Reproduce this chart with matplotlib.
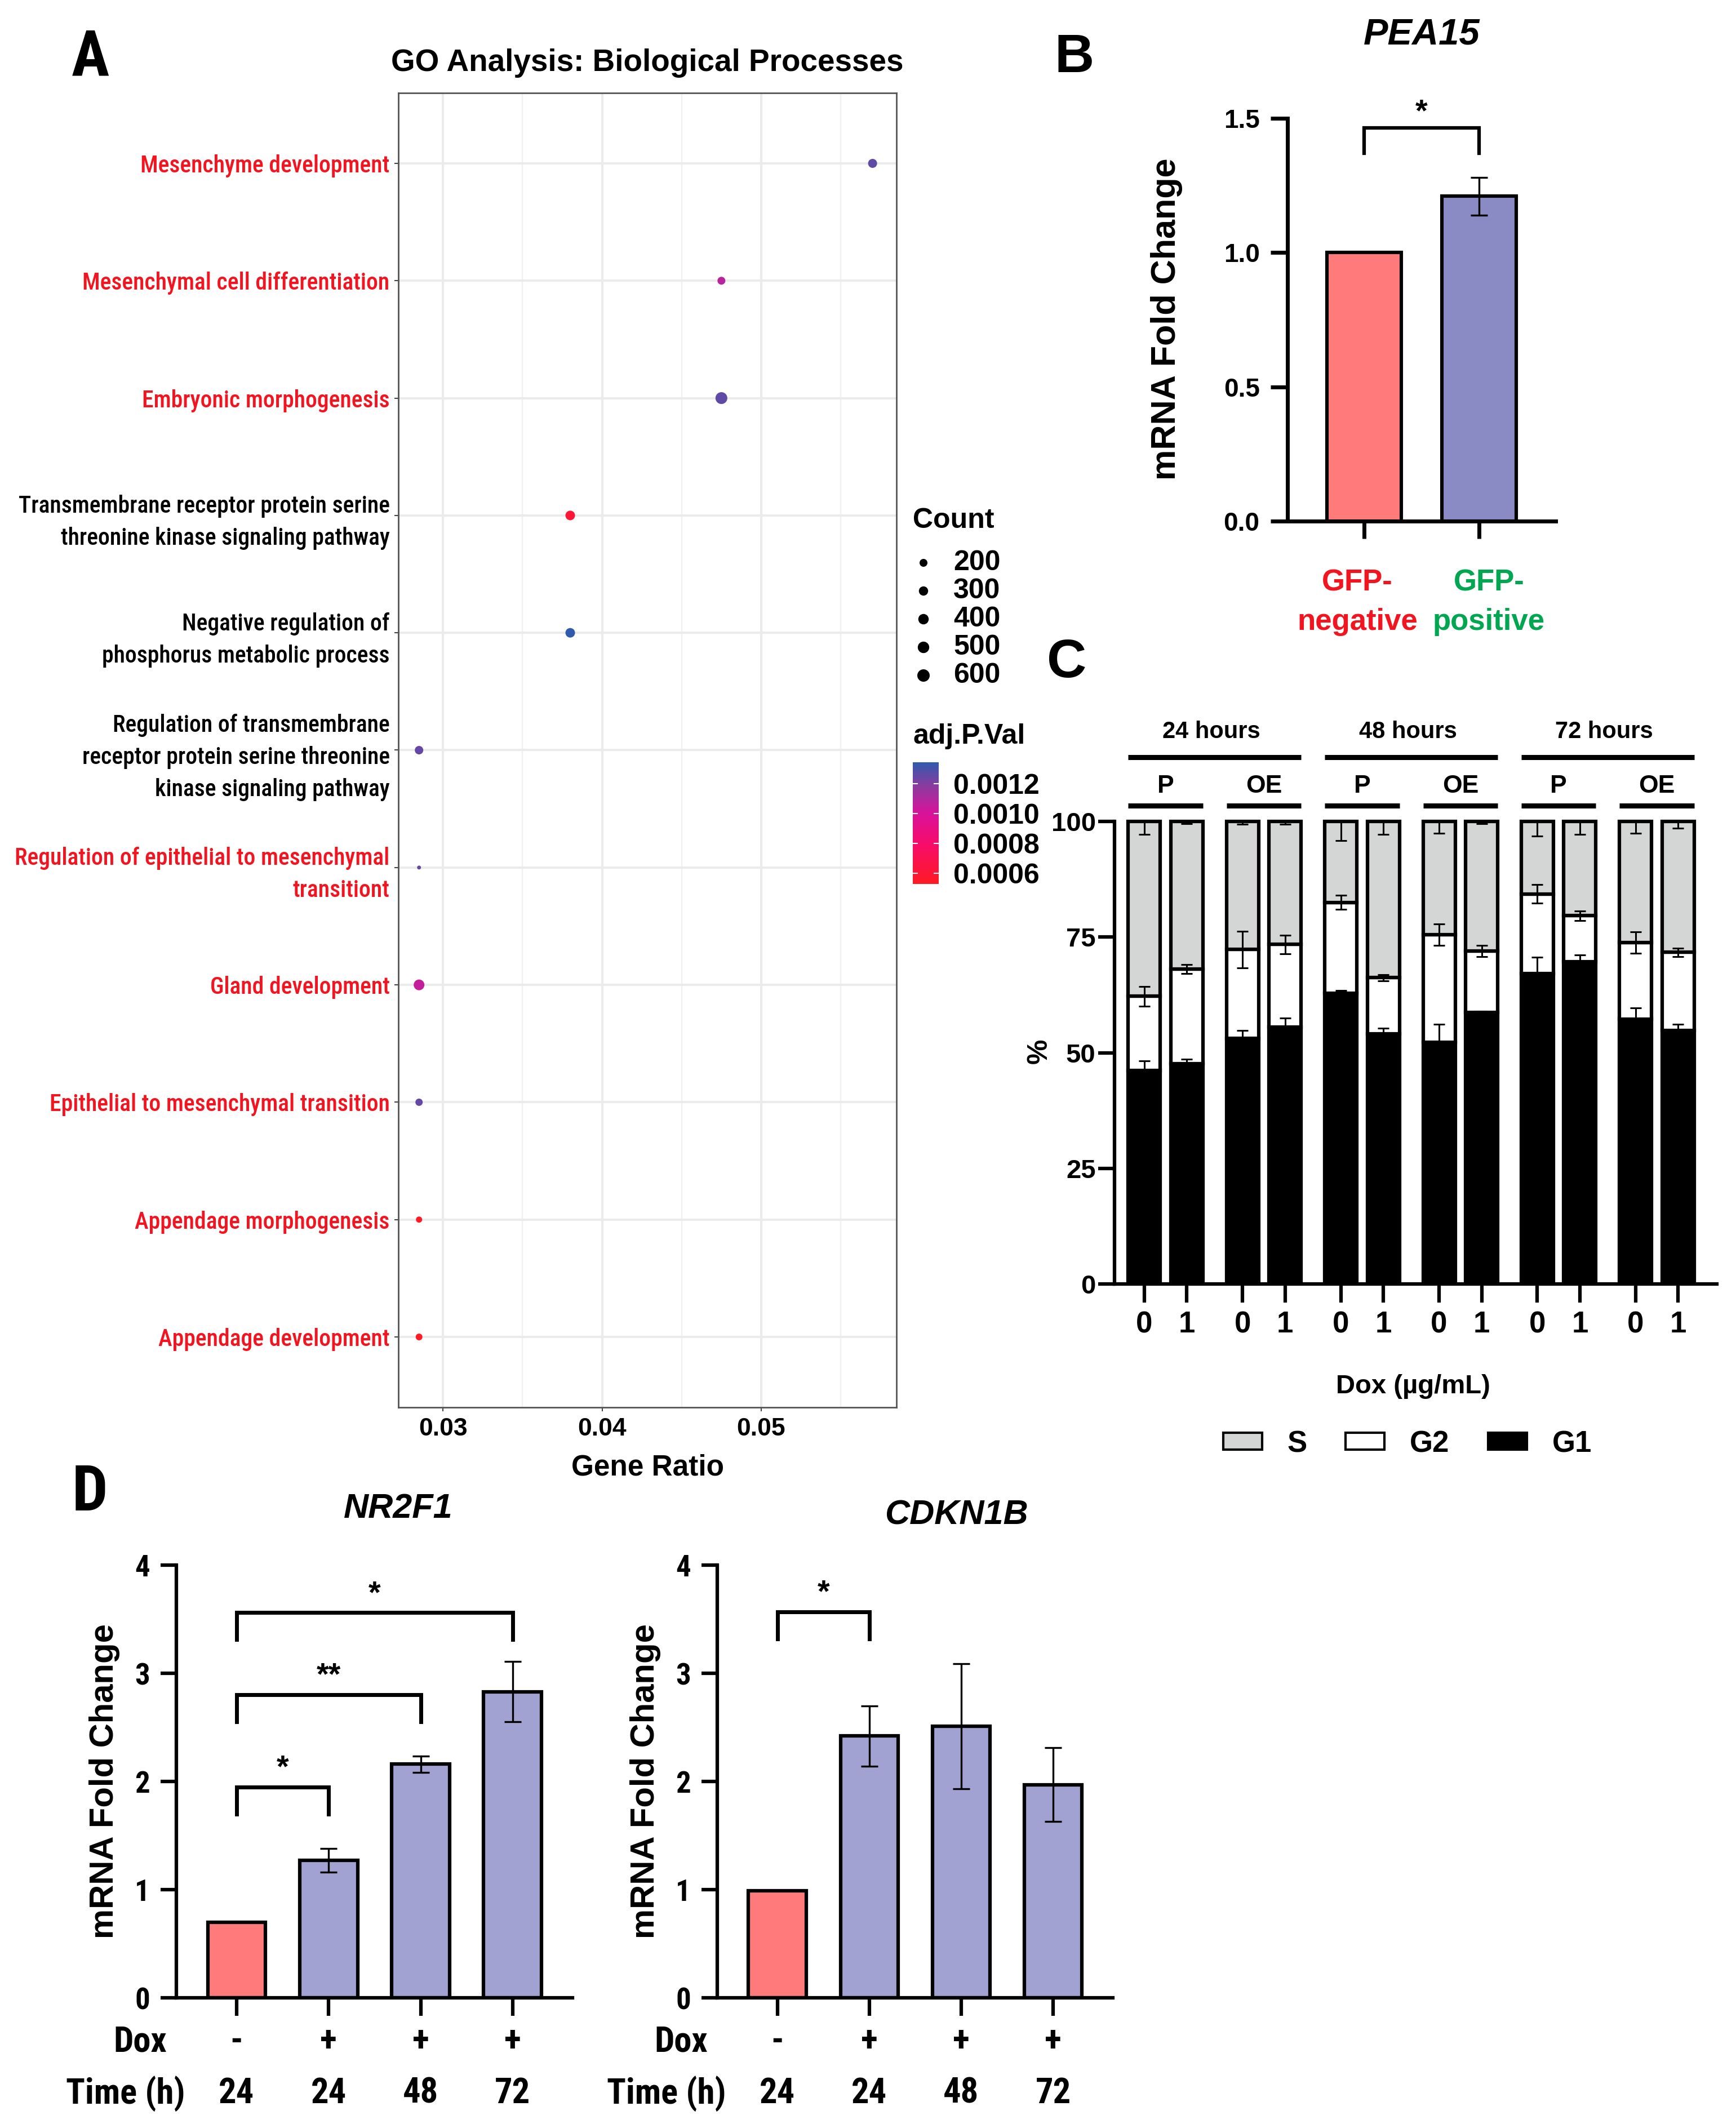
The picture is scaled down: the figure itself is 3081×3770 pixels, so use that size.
import os
import numpy as np
import matplotlib
matplotlib.use("Agg")
import matplotlib.pyplot as plt
import matplotlib.transforms as mtransforms
from matplotlib import font_manager
from matplotlib.font_manager import FontProperties
from matplotlib.colors import LinearSegmentedColormap, Normalize
from matplotlib.cm import ScalarMappable
from matplotlib.patches import Patch

W, H, DPI = 3081, 3770, 100

plt.rcParams["font.family"] = ["Liberation Sans", "DejaVu Sans"]
plt.rcParams["font.weight"] = "bold"
plt.rcParams["axes.titleweight"] = "bold"
plt.rcParams["axes.labelweight"] = "bold"

# ---- panel A: GO biological processes (top to bottom) ----
go_terms = [
    "Mesenchyme development",
    "Mesenchymal cell differentiation",
    "Embryonic morphogenesis",
    "Transmembrane receptor protein serine\nthreonine kinase signaling pathway",
    "Negative regulation of\nphosphorus metabolic process",
    "Regulation of transmembrane\nreceptor protein serine threonine\nkinase signaling pathway",
    "Regulation of epithelial to mesenchymal\ntransitiont",
    "Gland development",
    "Epithelial to mesenchymal transition",
    "Appendage morphogenesis",
    "Appendage development",
]
go_ratio = [0.0570, 0.0475, 0.0475, 0.0380, 0.0380, 0.0285,
            0.0285, 0.0285, 0.0285, 0.0285, 0.0285]
go_count = [280, 200, 540, 325, 325, 240, 25, 425, 165, 105, 133]
go_padj = [0.00126, 0.00108, 0.00126, 0.00060, 0.001343, 0.00125,
           0.00125, 0.00105, 0.00125, 0.000528, 0.000535]
go_highlight = [True, True, True, False, False, False,
                True, True, True, True, True]
count_breaks = [200, 300, 400, 500, 600]
padj_ticks = [0.0006, 0.0008, 0.0010, 0.0012]

# ---- panel B: PEA15 ----
pea15_groups = ["GFP-\nnegative", "GFP-\npositive"]
pea15_mean = [1.0, 1.21]
pea15_sd = [0.0, 0.07]
pea15_sig = [(0, 1, 1.465, "*")]

# ---- panel C: cell cycle ----
cc_time = ["24 hours", "48 hours", "72 hours"]
cc_line = ["P", "OE", "P", "OE", "P", "OE"]
cc_dox = ["0", "1"] * 6
g1 = np.array([46.2, 47.6, 53.1, 55.5, 62.9, 54.1, 52.2, 58.7, 67.1, 69.7, 57.2, 54.8])
g2 = np.array([16.0, 20.5, 19.2, 17.9, 19.6, 12.1, 23.3, 13.3, 17.2, 9.9, 16.6, 16.9])
g1_err = np.array([2.0, 1.0, 1.7, 2.0, 0.5, 1.2, 4.0, 0.3, 3.5, 1.4, 2.5, 1.4])
g2_err = np.array([2.1, 1.0, 4.0, 2.0, 1.5, 0.7, 2.3, 1.2, 2.0, 1.0, 2.3, 0.9])
s_err = np.array([2.8, 0.5, 0.6, 0.6, 4.2, 2.8, 2.5, 0.5, 3.2, 2.8, 2.5, 1.5])
s_phase = 100 - g1 - g2

# ---- panel D ----
d_dox = ["-", "+", "+", "+"]
d_time = ["24", "24", "48", "72"]
nr2f1_mean = [0.70, 1.27, 2.16, 2.83]
nr2f1_sd = [0.0, 0.11, 0.075, 0.28]
nr2f1_sig = [(0, 1, 1.95, "*"), (0, 2, 2.80, "**"), (0, 3, 3.56, "*")]
cdkn1b_mean = [0.99, 2.42, 2.51, 1.97]
cdkn1b_sd = [0.0, 0.28, 0.58, 0.34]
cdkn1b_sig = [(0, 1, 3.57, "*")]

SALMON = "#ff7b7b"
RED_TXT = "#f2141f"
GREEN_TXT = "#00a650"

# narrow (Arial Narrow-like) face, looked up by file name
_font_files = [f.fname for f in font_manager.fontManager.ttflist]


def narrow_file(weight="regular", italic=False):
    prefs = ["liberationsansnarrow", "robotocondensed", "notosans-condensed",
             "opensans_condensed", "opensans-condensed", "dejavusanscondensed"]
    for key in prefs:
        for p in _font_files:
            b = os.path.basename(p).lower().replace(" ", "")
            if not b.startswith(key):
                continue
            if any(w in b for w in ("semi", "extra", "ultra", "light", "thin", "black")):
                continue
            if ("bold" in b) != (weight == "bold"):
                continue
            if ("medium" in b) != (weight == "medium"):
                continue
            if ("italic" in b or "oblique" in b) != italic:
                continue
            return p
    return None


def narrow_fp(size, weight="regular", italic=False):
    p = narrow_file(weight, italic)
    if p is None and weight == "medium":
        p = narrow_file("regular", italic)
    if p is None:
        return FontProperties(family="Liberation Sans",
                              weight="bold" if weight == "bold" else "normal",
                              style="italic" if italic else "normal",
                              size=size * 0.82)
    return FontProperties(fname=p, size=size)


fig = plt.figure(figsize=(W / DPI, H / DPI), dpi=DPI)


def px_axes(l, t, r, b):
    return fig.add_axes([l / W, 1 - b / H, (r - l) / W, (b - t) / H])


def px_text(x, y, s, **kw):
    return fig.text(x / W, 1 - y / H, s, **kw)


def dot_size(c):
    d = 14 + 0.773 * (np.sqrt(np.asarray(c, float)) - np.sqrt(200))
    return (d * 72 / DPI) ** 2


# ================= A =================
axA = px_axes(707, 165, 1591, 2498)
n = len(go_terms)
ypos = np.arange(n)[::-1] + 1
cmap = LinearSegmentedColormap.from_list(
    "padj", [(0, "#ff1a24"), (0.33, "#f60c6a"), (0.58, "#d8129a"),
             (0.8, "#8e3a9f"), (1, "#2f5aae")])
norm = Normalize(min(go_padj), max(go_padj))
axA.scatter(go_ratio, ypos, s=dot_size(go_count), c=go_padj, cmap=cmap,
            norm=norm, linewidths=0, zorder=3)
axA.set_xlim(0.0272, 0.0585)
axA.set_ylim(0.4, n + 0.6)
axA.set_xticks([0.03, 0.04, 0.05])
axA.set_xticklabels(["0.03", "0.04", "0.05"])
axA.set_xticks([0.035, 0.045, 0.055], minor=True)
axA.set_yticks(ypos)
axA.set_yticklabels(go_terms, fontproperties=narrow_fp(30, "medium"), linespacing=1.5)
for lab, hl in zip(axA.get_yticklabels(), go_highlight):
    lab.set_color(RED_TXT if hl else "black")
axA.grid(which="major", color="#ebebeb", lw=2.9)
axA.grid(which="minor", axis="x", color="#f1f1f1", lw=1.7)
axA.set_axisbelow(True)
for sp in axA.spines.values():
    sp.set_color("#555555")
    sp.set_linewidth(2)
axA.tick_params(which="major", length=5, width=1.5, color="#444444")
axA.tick_params(axis="x", which="minor", length=0)
axA.tick_params(axis="x", labelsize=32, pad=8)
axA.tick_params(axis="y", pad=6)
axA.set_xlabel("Gene Ratio", fontsize=37, va="center")
axA.xaxis.set_label_coords(0.5, -0.0459)
axA.set_title("GO Analysis: Biological Processes", fontsize=39.5,
              y=(2498 - 112) / 2333, va="center", pad=0)

# size legend
lax = px_axes(1600, 880, 1900, 1240)
lax.set_xlim(0, 300)
lax.set_ylim(360, 0)
lax.axis("off")
rows = 119 + 50 * np.arange(len(count_breaks))
lax.scatter(np.full(len(count_breaks), 39), rows, s=dot_size(count_breaks),
            color="black", linewidths=0, clip_on=False)
for r, c in zip(rows, count_breaks):
    lax.text(92, r, str(c), ha="left", va="center", fontsize=36)
lax.text(20, 44, "Count", ha="left", va="center", fontsize=36)

# colour bar
cax = px_axes(1620, 1353, 1666, 1569)
cb = fig.colorbar(ScalarMappable(norm=norm, cmap=cmap), cax=cax, ticks=padj_ticks)
cb.outline.set_visible(False)
cax.set_yticklabels([f"{t:.4f}" for t in padj_ticks])
cax.minorticks_off()
cax.tick_params(axis="y", direction="in", length=6.5, width=1.5, color="white",
                left=True, right=True, labelsize=36, pad=19)
cax.set_title("adj.P.Val", loc="left", fontsize=36, pad=24)

# ================= B =================
axB = px_axes(2285, 210, 2761, 925)
xb = np.arange(len(pea15_mean))
axB.bar(xb, pea15_mean, width=0.647, color=[SALMON, "#8a8ac4"],
        edgecolor="black", linewidth=4.4, zorder=2)
for x, m, e in zip(xb, pea15_mean, pea15_sd):
    if e > 0:
        axB.errorbar(x, m, yerr=e, fmt="none", ecolor="black", elinewidth=2.4,
                     capsize=11, capthick=2.4, zorder=3)
axB.set_xlim(-0.667, 1.667)
axB.set_ylim(0, 1.5)
axB.spines[["top", "right"]].set_visible(False)
axB.spines[["left", "bottom"]].set_linewidth(5)
axB.set_yticks([0, 0.5, 1.0, 1.5])
axB.set_yticklabels(["0.0", "0.5", "1.0", "1.5"])
axB.tick_params(axis="y", length=21.6, width=5, labelsize=33, pad=14)
axB.tick_params(axis="x", length=22, width=5)
axB.set_xticks(xb)
axB.set_xticklabels([])
btrans = mtransforms.blended_transform_factory(axB.transData, axB.transAxes)
for x, lab, col, dx in zip(xb, pea15_groups, [RED_TXT, GREEN_TXT], [-0.06, 0.085]):
    axB.text(x + dx, -0.2014, lab, transform=btrans, ha="center", va="center",
             color=col, fontsize=38, linespacing=1.5)
axB.set_ylabel("mRNA Fold Change", fontsize=44, va="center")
axB.yaxis.set_label_coords(-0.45, 0.502)
axB.set_title("PEA15", fontstyle="italic", fontsize=47, y=1.208, va="center", pad=0)
for i, j, y, lab in pea15_sig:
    axB.plot([i, i, j, j], [y - 0.095, y, y, y - 0.095], color="black", lw=4.5,
             clip_on=False, solid_joinstyle="miter")
    axB.text((i + j) / 2, y + 0.055, lab, ha="center", va="center", fontsize=40)

# ================= C =================
axC = px_axes(1978, 1458, 3047, 2279)
nc = len(g1)
xc = (np.arange(nc) // 2) * 2.31 + np.arange(nc) % 2
bw = 0.755
axC.bar(xc, g1, bw, color="black", edgecolor="black", lw=4.5, zorder=2)
axC.bar(xc, g2, bw, bottom=g1, color="white", edgecolor="black", lw=4.5, zorder=2)
axC.bar(xc, s_phase, bw, bottom=g1 + g2, color="#d4d6d5", edgecolor="black",
        lw=4.5, zorder=2, clip_on=False)
ekw = dict(fmt="none", ecolor="black", elinewidth=2.2, capsize=7, capthick=2.2,
           zorder=4, clip_on=False)
axC.errorbar(xc, g1, yerr=g1_err, **ekw)
axC.errorbar(xc, g1 + g2, yerr=g2_err, **ekw)
axC.errorbar(xc, g1 + g2 + s_phase, yerr=[s_err, np.zeros(nc)], **ekw)
axC.set_xlim(-0.70, 13.46)
axC.set_ylim(0, 100)
axC.spines[["top", "right"]].set_visible(False)
axC.spines[["left", "bottom"]].set_linewidth(4.5)
axC.set_yticks([0, 25, 50, 75, 100])
axC.tick_params(axis="y", length=21, width=4.5, labelsize=34, pad=3)
axC.set_xticks(xc)
axC.set_xticklabels(cc_dox)
axC.tick_params(axis="x", length=24, width=4.5, labelsize=38, pad=10)
axC.set_ylabel("%", fontsize=36, va="center")
axC.yaxis.set_label_coords(-0.125, 0.503)
axC.set_xlabel("Dox (µg/mL)", fontsize=34, va="center")
axC.xaxis.set_label_coords(0.496, -0.222)
for k, lab in enumerate(cc_line):
    x0, x1 = xc[2 * k] - bw / 2, xc[2 * k + 1] + bw / 2
    axC.plot([x0, x1], [103.4, 103.4], color="black", lw=6.5, clip_on=False,
             solid_capstyle="butt")
    axC.text((x0 + x1) / 2, 107.6, lab, ha="center", va="center", fontsize=32)
for k, lab in enumerate(cc_time):
    x0, x1 = xc[4 * k] - bw / 2, xc[4 * k + 3] + bw / 2
    axC.plot([x0, x1], [113.9, 113.9], color="black", lw=6.5, clip_on=False,
             solid_capstyle="butt")
    axC.text((x0 + x1) / 2 - 0.08, 119.4, lab, ha="center", va="center", fontsize=30)
handles = [Patch(facecolor="#d4d6d5", edgecolor="black", lw=3, label="S"),
           Patch(facecolor="white", edgecolor="black", lw=3, label="G2"),
           Patch(facecolor="black", edgecolor="black", lw=3, label="G1")]
fig.legend(handles=handles, loc="center", bbox_to_anchor=(2498 / W, 1 - 2563 / H),
           ncol=3, frameon=False, fontsize=38, handlelength=1.3, handleheight=0.5,
           handletextpad=0.85, columnspacing=1.3)

# ================= D =================
fp_tick = narrow_fp(38, "bold")
fp_row = narrow_fp(45, "bold")


def fold_panel(rect, title, mean, sd, sig, title_x, title_y):
    ax = px_axes(*rect)
    xd = np.arange(len(mean))
    colors = [SALMON] + ["#a2a2d2"] * (len(mean) - 1)
    ax.bar(xd, mean, width=0.63, color=colors, edgecolor="black", lw=4.5, zorder=2)
    for x, m, e in zip(xd, mean, sd):
        if e > 0:
            ax.errorbar(x, m, yerr=e, fmt="none", ecolor="black", elinewidth=2.4,
                        capsize=11, capthick=2.4, zorder=3)
    ax.set_xlim(-0.655, 3.65)
    ax.set_ylim(0, 4)
    ax.spines[["top", "right"]].set_visible(False)
    ax.spines[["left", "bottom"]].set_linewidth(4.5)
    ax.set_yticks([0, 1, 2, 3, 4])
    ax.set_yticklabels(["0", "1", "2", "3", "4"], fontproperties=fp_tick)
    ax.tick_params(axis="y", length=20, width=4.5, pad=14)
    ax.set_xticks(xd)
    ax.set_xticklabels([])
    ax.tick_params(axis="x", length=23, width=4.5)
    for i, j, y, lab in sig:
        ax.plot([i, i, j, j], [y - 0.25, y, y, y - 0.25], color="black", lw=5,
                clip_on=False, solid_joinstyle="miter")
        ax.text((i + j) / 2, y + 0.17, lab, ha="center", va="center", fontsize=40)
    trans = mtransforms.blended_transform_factory(ax.transData, ax.transAxes)
    for x, dx, t in zip(xd, d_dox, d_time):
        ax.text(x, -0.1016, dx, transform=trans, ha="center", va="center",
                fontproperties=fp_row)
        ax.text(x, -0.221, t, transform=trans, ha="center", va="center",
                fontproperties=fp_row)
    ax.text(-0.092, -0.1016, "Dox", transform=ax.transAxes, ha="center",
            va="center", fontproperties=fp_row)
    ax.text(-0.129, -0.221, "Time (h)", transform=ax.transAxes, ha="center",
            va="center", fontproperties=fp_row)
    ax.set_ylabel("mRNA Fold Change", fontsize=43, va="center")
    ax.yaxis.set_label_coords(-0.182, 0.5)
    ax.set_title(title, fontstyle="italic", fontsize=44,
                 x=title_x, y=title_y, va="center", pad=0)
    return ax


fold_panel((313, 2778, 1016, 3546), "NR2F1", nr2f1_mean, nr2f1_sd, nr2f1_sig,
           0.560, 1.130)
fold_panel((1273, 2778, 1975, 3546), "CDKN1B", cdkn1b_mean, cdkn1b_sd, cdkn1b_sig,
           0.604, 1.115)

# panel letters
px_text(160, 104, "A", fontproperties=narrow_fp(81, "bold"), ha="center", va="center")
px_text(1907, 103, "B", fontsize=70, ha="center", va="center")
px_text(1893, 1177, "C", fontsize=70, ha="center", va="center")
px_text(159, 2650, "D", fontproperties=narrow_fp(81, "bold"), ha="center", va="center")

fig.savefig("out.png", dpi=DPI, facecolor="white")
